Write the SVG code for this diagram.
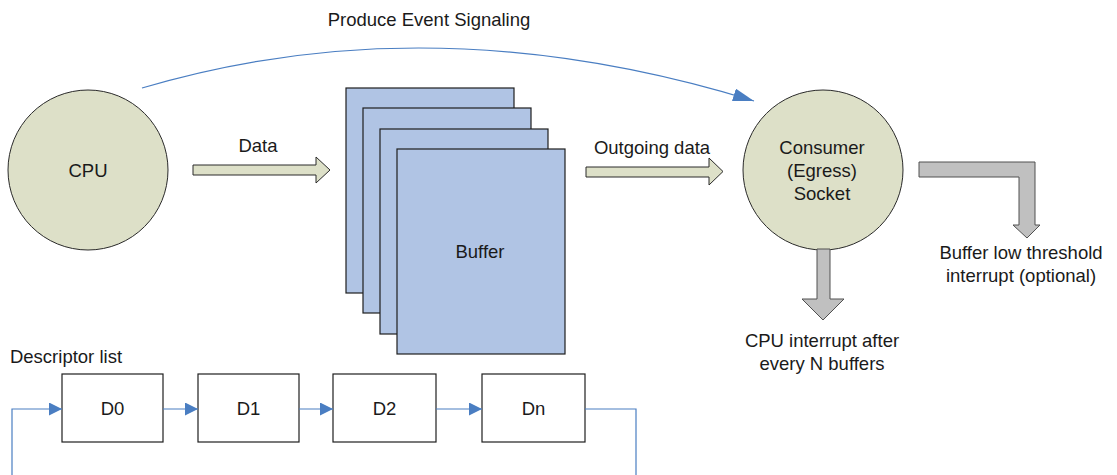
<svg xmlns="http://www.w3.org/2000/svg" width="1117" height="475" viewBox="0 0 1117 475">
<style>
text{font-family:"Liberation Sans",Arial,sans-serif;font-size:18.5px;fill:#1a1a1a;text-anchor:middle}
.circ{fill:#dde0c8;stroke:#2a2a2a;stroke-width:1}
.buf{fill:#b0c4e4;stroke:#1e1e1e;stroke-width:1.2}
.box{fill:#ffffff;stroke:#1e1e1e;stroke-width:1.2}
.fat{fill:#dde0c8;stroke:#2a2a2a;stroke-width:1}
.gray{fill:#c0c0c0;stroke:#505050;stroke-width:1}
.blue{fill:none;stroke:#4a7ec2;stroke-width:1.2}
</style>
<defs>
<marker id="ah" markerWidth="14" markerHeight="14" refX="13" refY="6.5" orient="auto" markerUnits="userSpaceOnUse">
<path d="M0,0 L13,6.5 L0,13 Z" fill="#4a7ec2"/>
</marker>
<marker id="ahBig" markerWidth="22" markerHeight="14" refX="21" refY="6.5" orient="auto" markerUnits="userSpaceOnUse">
<path d="M0,0 L21,6.5 L0,13 Z" fill="#4a7ec2"/>
</marker>
</defs>

<text x="429" y="26">Produce Event Signaling</text>

<g id="cpu">
<circle class="circ" cx="88" cy="170" r="80"/>
<text x="88" y="177">CPU</text>
</g>

<g id="buffer">
<rect class="buf" x="346" y="88" width="168" height="205"/>
<rect class="buf" x="363" y="108" width="168" height="205"/>
<rect class="buf" x="380" y="129" width="168" height="205"/>
<rect class="buf" x="397" y="149" width="168" height="205"/>
<text x="480" y="258">Buffer</text>
</g>

<g id="consumer">
<circle class="circ" cx="823" cy="170" r="80"/>
<text x="822" y="154">Consumer</text>
<text x="822" y="177">(Egress)</text>
<text x="822" y="200">Socket</text>
</g>

<g id="descriptors">
<text x="66" y="363">Descriptor list</text>
<g id="d0"><rect class="box" x="62" y="374" width="101" height="68"/><text x="112.5" y="415">D0</text></g>
<g id="d1"><rect class="box" x="198" y="374" width="101" height="68"/><text x="248.5" y="415">D1</text></g>
<g id="d2"><rect class="box" x="333" y="374" width="103" height="68"/><text x="384.5" y="415">D2</text></g>
<g id="dn"><rect class="box" x="482" y="374" width="103" height="68"/><text x="533.5" y="415">Dn</text></g>
</g>

<g id="labels">
<text x="258" y="152">Data</text>
<text x="652" y="154">Outgoing data</text>
<text x="1021" y="259">Buffer low threshold</text>
<text x="1021" y="282">interrupt (optional)</text>
<text x="822" y="347">CPU interrupt after</text>
<text x="822" y="370">every N buffers</text>
</g>

<g id="connectors">
<path class="blue" d="M142,88 Q432,2 754,101" marker-end="url(#ahBig)"/>
<path class="fat" d="M193,165 L316,165 L316,157 L330,170 L316,183 L316,175 L193,175 Z"/>
<path class="fat" d="M586,167 L709,167 L709,158 L723,171.5 L709,185 L709,177 L586,177 Z"/>
<path class="gray" d="M817,249 L817,299 L802,299 L823,320 L844,299 L830,299 L830,249 Z"/>
<path class="gray" d="M919,162 L1035,162 L1035,225 L1040,225 L1027,238 L1013,225 L1019,225 L1019,177 L919,177 Z"/>
<path class="blue" d="M12,475 L12,409 L62,409" marker-end="url(#ah)"/>
<path class="blue" d="M163,409 L198,409" marker-end="url(#ah)"/>
<path class="blue" d="M299,409 L333,409" marker-end="url(#ah)"/>
<path class="blue" d="M436,409 L482,409" marker-end="url(#ah)"/>
<path class="blue" d="M585,409 L636,409 L636,475"/>
</g>
</svg>
